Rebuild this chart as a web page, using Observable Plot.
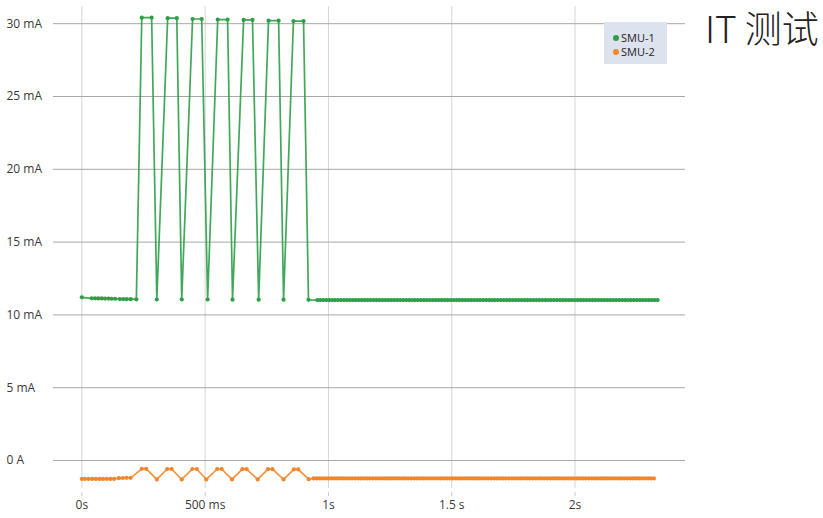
<!DOCTYPE html>
<html><head><meta charset="utf-8">
<script src="https://cdn.jsdelivr.net/npm/d3@7"></script>
<script src="https://cdn.jsdelivr.net/npm/@observablehq/plot@0.6"></script>
<style>
body{margin:0;background:#fff;}
#wrap{position:relative;width:823px;height:518px;overflow:hidden;}
#title{position:absolute;left:705px;top:6px;font-family:"Noto Sans CJK SC","Noto Sans",sans-serif;font-weight:300;font-size:37px;line-height:42px;color:#222;white-space:nowrap;}
#legend{position:absolute;left:604px;top:22px;width:63px;height:42px;background:#dde3ee;font-family:"Open Sans",sans-serif;font-size:11px;color:#222;box-sizing:border-box;padding:9px 0 0 9px;}
#legend .it{height:14px;line-height:14px;white-space:nowrap;}
#legend .sw{display:inline-block;width:6px;height:6px;border-radius:50%;margin-right:2px;vertical-align:middle;position:relative;top:-1px;}
</style></head>
<body>
<div id="wrap">
<div id="chart"></div>
<div id="legend"></div>
<div id="title">IT 测试</div>
</div>
<script>
const titleText = "IT 测试";
const seriesNames = ["SMU-1", "SMU-2"];
const seriesColors = ["#2e9e47", "#f0872a"];

const xTicks = [0, 500, 1000, 1500, 2000];
const xTickLabels = ["0s", "500 ms", "1s", "1.5 s", "2s"];
const yTicks = [0, 5, 10, 15, 20, 25, 30];
const yTickLabels = ["0 A", "5 mA", "10 mA", "15 mA", "20 mA", "25 mA", "30 mA"];

// SMU-1 (time in ms, current in mA)
const smu1Time = [0,40,54,67,81,94,108,121,135,154,168,182,198,221,
243,283,304,348,385,405,449,486,510,551,591,611,656,692,717,757,798,818,858,899,919,
955,967,979,991,1003,1015,1027,1039,1051,1063,1075,1087,1099,1111,1123,1135,1147,1159,1171,1183,
1195,1207,1219,1231,1243,1255,1267,1279,1291,1303,1315,1327,1339,1351,1363,1375,1387,1399,1411,1423,
1435,1447,1459,1471,1483,1495,1507,1519,1531,1543,1555,1567,1579,1591,1603,1615,1627,1639,1651,1663,
1675,1687,1699,1711,1723,1735,1747,1759,1771,1783,1795,1807,1819,1831,1843,1855,1867,1879,1891,1903,
1915,1927,1939,1951,1963,1975,1987,1999,2011,2023,2035,2047,2059,2071,2083,2095,2107,2119,2131,2143,
2155,2167,2179,2191,2203,2215,2227,2239,2251,2263,2275,2287,2299,2311,2323,2335];
const smu1Current = [11.21,11.14,11.14,11.13,11.13,11.12,11.12,11.11,11.11,11.09,11.09,11.08,11.08,11.07,
30.41,30.41,11.06,30.38,30.38,11.06,30.32,30.32,11.06,30.28,30.28,11.05,30.26,30.26,11.05,30.21,30.21,11.05,30.18,30.18,11.04,
11.02,11.02,11.02,11.02,11.02,11.02,11.02,11.02,11.02,11.02,11.02,11.02,11.02,11.02,11.02,11.02,11.02,11.02,11.02,11.02,
11.02,11.02,11.02,11.02,11.02,11.02,11.02,11.02,11.02,11.02,11.02,11.02,11.02,11.02,11.02,11.02,11.02,11.02,11.02,11.02,
11.02,11.02,11.02,11.02,11.02,11.02,11.02,11.02,11.02,11.02,11.02,11.02,11.02,11.02,11.02,11.02,11.02,11.02,11.02,11.02,
11.02,11.02,11.02,11.02,11.02,11.02,11.02,11.02,11.02,11.02,11.02,11.02,11.02,11.02,11.02,11.02,11.02,11.02,11.02,11.02,
11.02,11.02,11.02,11.02,11.02,11.02,11.02,11.02,11.02,11.02,11.02,11.02,11.02,11.02,11.02,11.02,11.02,11.02,11.02,11.02,
11.02,11.02,11.02,11.02,11.02,11.02,11.02,11.02,11.02,11.02,11.02,11.02,11.02,11.02,11.02,11.02];

// SMU-2 (time in ms, current in mA)
const smu2Time = [0,12,27,42,57,72,86,101,116,131,150,166,181,198,
243,261,304,346,364,405,448,466,505,549,567,609,651,668,713,755,773,818,860,877,920,
940,952,964,976,988,1000,1012,1024,1036,1048,1060,1072,1084,1096,1108,1120,1132,1144,1156,1168,
1180,1192,1204,1216,1228,1240,1252,1264,1276,1288,1300,1312,1324,1336,1348,1360,1372,1384,1396,1408,
1420,1432,1444,1456,1468,1480,1492,1504,1516,1528,1540,1552,1564,1576,1588,1600,1612,1624,1636,1648,
1660,1672,1684,1696,1708,1720,1732,1744,1756,1768,1780,1792,1804,1816,1828,1840,1852,1864,1876,1888,
1900,1912,1924,1936,1948,1960,1972,1984,1996,2008,2020,2032,2044,2056,2068,2080,2092,2104,2116,2128,
2140,2152,2164,2176,2188,2200,2212,2224,2236,2248,2260,2272,2284,2296,2308,2320];
const smu2Current = [-1.26,-1.26,-1.26,-1.26,-1.26,-1.26,-1.26,-1.26,-1.26,-1.26,-1.21,-1.20,-1.19,-1.19,
-0.57,-0.57,-1.30,-0.58,-0.58,-1.30,-0.58,-0.58,-1.30,-0.58,-0.58,-1.30,-0.59,-0.59,-1.30,-0.59,-0.59,-1.30,-0.60,-0.60,-1.28,
-1.23,-1.23,-1.23,-1.23,-1.23,-1.23,-1.23,-1.23,-1.23,-1.23,-1.23,-1.23,-1.23,-1.23,-1.23,-1.23,-1.23,-1.23,-1.23,-1.23,
-1.23,-1.23,-1.23,-1.23,-1.23,-1.23,-1.23,-1.23,-1.23,-1.23,-1.23,-1.23,-1.23,-1.23,-1.23,-1.23,-1.23,-1.23,-1.23,-1.23,
-1.23,-1.23,-1.23,-1.23,-1.23,-1.23,-1.23,-1.23,-1.23,-1.23,-1.23,-1.23,-1.23,-1.23,-1.23,-1.23,-1.23,-1.23,-1.23,-1.23,
-1.23,-1.23,-1.23,-1.23,-1.23,-1.23,-1.23,-1.23,-1.23,-1.23,-1.23,-1.23,-1.23,-1.23,-1.23,-1.23,-1.23,-1.23,-1.23,-1.23,
-1.23,-1.23,-1.23,-1.23,-1.23,-1.23,-1.23,-1.23,-1.23,-1.23,-1.23,-1.23,-1.23,-1.23,-1.23,-1.23,-1.23,-1.23,-1.23,-1.23,
-1.23,-1.23,-1.23,-1.23,-1.23,-1.23,-1.23,-1.23,-1.23,-1.23,-1.23,-1.23,-1.23,-1.23,-1.23,-1.23];

const s1 = smu1Time.map((t, i) => ({t, v: smu1Current[i]}));
const s2 = smu2Time.map((t, i) => ({t, v: smu2Current[i]}));
const xLab = new Map(xTicks.map((d, i) => [d, xTickLabels[i]]));
const yLab = new Map(yTicks.map((d, i) => [d, yTickLabels[i]]));

const chart = Plot.plot({
  width: 823,
  height: 518,
  marginLeft: 53,
  marginRight: 138,
  marginTop: 6,
  marginBottom: 30,
  style: {fontFamily: "'Open Sans', sans-serif", fontSize: "12px", color: "#3a3a3a", background: "#fff"},
  x: {type: "linear", domain: [-115, 2448], axis: null, label: null},
  y: {type: "linear", domain: [-1.92, 31.18], axis: null, label: null},
  marks: [
    Plot.ruleX(xTicks, {stroke: "#d4d4d4", strokeWidth: 1}),
    Plot.ruleY(yTicks, {stroke: "#a8a8a8", strokeWidth: 1}),
    Plot.line(s2, {x: "t", y: "v", stroke: seriesColors[1], strokeWidth: 1.7, strokeOpacity: 0.9}),
    Plot.dot(s2, {x: "t", y: "v", fill: seriesColors[1], r: 2.1}),
    Plot.line(s1, {x: "t", y: "v", stroke: seriesColors[0], strokeWidth: 1.7, strokeOpacity: 0.9}),
    Plot.dot(s1, {x: "t", y: "v", fill: seriesColors[0], r: 2.1}),
    Plot.axisX(xTicks, {tickFormat: d => xLab.get(d), tickSize: 4, tickPadding: 4, dy: 4, stroke: "#ccc", fill: "#3a3a3a", label: null}),
    Plot.axisY(yTicks, {tickFormat: d => yLab.get(d), tickSize: 0, tickPadding: 47, textAnchor: "start", fill: "#3a3a3a", label: null})
  ]
});
document.getElementById("chart").appendChild(chart);

document.getElementById("title").textContent = titleText;
const leg = document.getElementById("legend");
leg.innerHTML = seriesNames.map((n, i) =>
  `<div class="it"><span class="sw" style="background:${seriesColors[i]}"></span>${n}</div>`).join("");
</script>
</body></html>
